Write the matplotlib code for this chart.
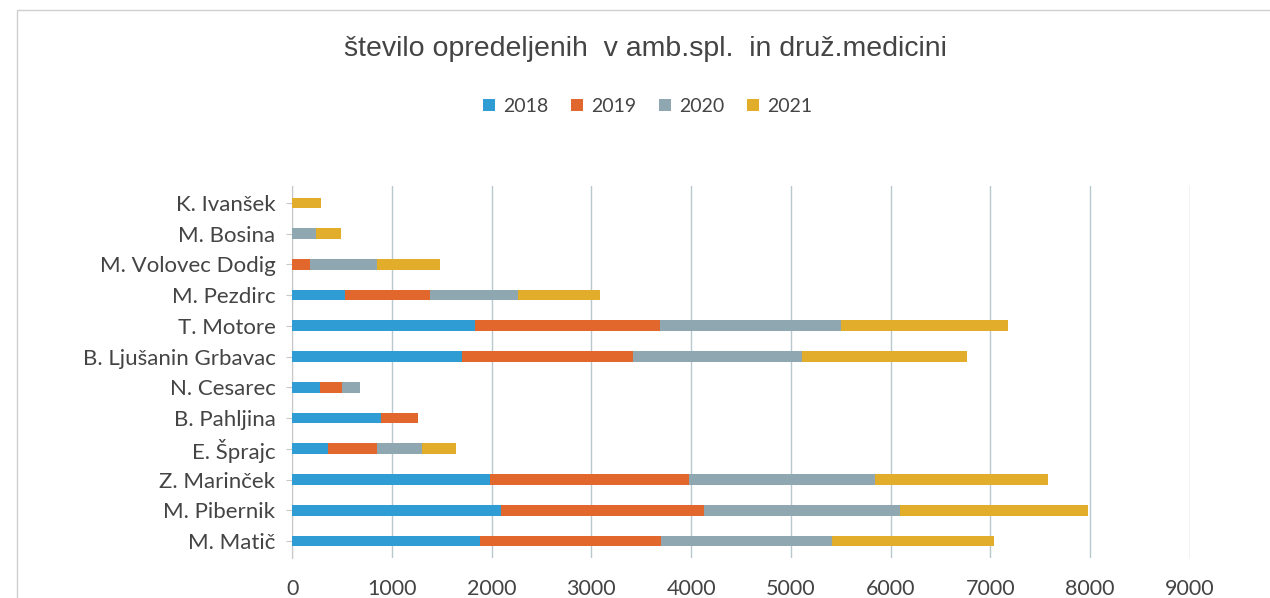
import matplotlib.pyplot as plt
import numpy as np
from matplotlib.patches import Rectangle

# categories, bottom to top
names = ['M. Matič', 'M. Pibernik', 'Z. Marinček', 'E. Šprajc', 'B. Pahljina',
         'N. Cesarec', 'B. Ljušanin Grbavac', 'T. Motore', 'M. Pezdirc',
         'M. Volovec Dodig', 'M. Bosina', 'K. Ivanšek']
years = ['2018', '2019', '2020', '2021']
v2018 = [1880, 2090, 1980, 355, 895, 280, 1700, 1830, 530, 0, 0, 0]
v2019 = [1820, 2040, 2000, 495, 370, 220, 1720, 1860, 850, 180, 0, 0]
v2020 = [1710, 1960, 1860, 455, 0, 180, 1690, 1810, 885, 675, 235, 0]
v2021 = [1630, 1890, 1740, 340, 0, 0, 1650, 1680, 820, 625, 255, 290]
xticks = [0, 1000, 2000, 3000, 4000, 5000, 6000, 7000, 8000, 9000]

colors = ['#2f9dd3', '#e2672d', '#8ea7b0', '#e2ad2b']

fig = plt.figure(figsize=(12.7, 5.98), dpi=100)
ax = fig.add_axes([0.23, 0.067, 0.707, 0.622])

y = np.arange(len(names))
left = np.zeros(len(names))
for yr, vals, c in zip(years, [v2018, v2019, v2020, v2021], colors):
    vals = np.array(vals)
    ax.barh(y, vals, left=left, height=0.35, color=c, label=yr, zorder=3)
    left += vals

ax.set_xlim(0, 9000)
ax.set_ylim(-0.55, len(names) - 0.45)
ax.set_xticks(xticks)
ax.set_xticklabels([str(t) for t in xticks], fontsize=15.5, color='#444444', family='Lato')
ax.set_yticks(y)
ax.set_yticklabels(names, fontsize=16, color='#444444', family='Lato')
ax.grid(axis='x', color='#b9c7cf', linewidth=1, zorder=0)
for s in ['top', 'right', 'bottom']:
    ax.spines[s].set_visible(False)
ax.spines['left'].set_color('#c8c8c8')
ax.tick_params(axis='y', length=4, color='#c8c8c8', pad=8)
ax.tick_params(axis='x', length=0, pad=15)

fig.text(0.508, 0.918, 'število opredeljenih  v amb.spl.  in druž.medicini',
         ha='center', va='center', fontsize=20.5, color='#444444', family='Liberation Sans')
fig.legend(loc='center', bbox_to_anchor=(0.51, 0.822), ncol=4, frameon=False,
           handlelength=0.6, handleheight=0.6, columnspacing=1.2,
           handletextpad=0.4, labelcolor='#444444', prop={'family': 'Lato', 'size': 14})

fig.patches.append(Rectangle((0.013, -0.1), 1.2, 1.083, transform=fig.transFigure,
                             fill=False, edgecolor='#cfcfcf', linewidth=1))

fig.savefig('out.png', dpi=100)
